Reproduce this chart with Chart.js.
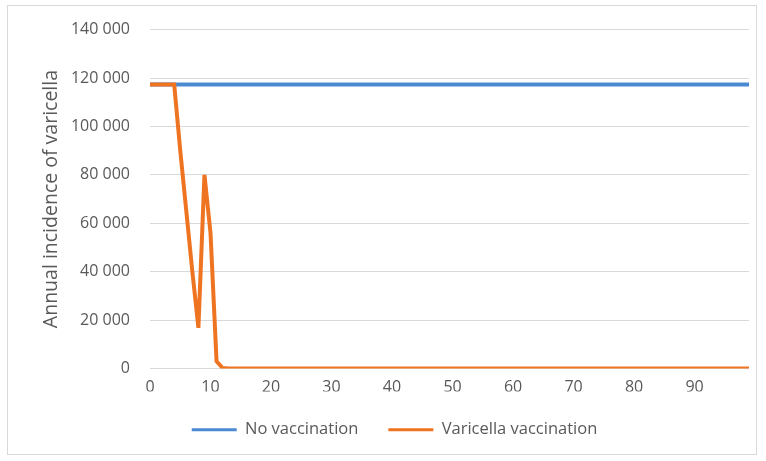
<!DOCTYPE html>
<html>
<head>
<meta charset="utf-8">
<script src="https://cdn.jsdelivr.net/npm/chart.js@4"></script>
<style>
  body { margin: 0; background: #fff; }
  #wrap { position: relative; width: 766px; height: 461px; }
  #frame { position: absolute; left: 7px; top: 5px; width: 750px; height: 450px; border: 1px solid #d9d9d9; box-sizing: border-box; }
  canvas { position: absolute; left: 0; top: 0; }
</style>
</head>
<body>
<div id="wrap">
  <div id="frame"></div>
  <canvas id="chart" width="766" height="461"></canvas>
</div>
<script>
// years since start (category axis), 0..99
const years = Array.from({ length: 100 }, (_, i) => String(i));

// annual incidence, no vaccination: flat
const noVaccination = [
  117300, 117300, 117300, 117300, 117300, 117300, 117300, 117300, 117300, 117300,
  117300, 117300, 117300, 117300, 117300, 117300, 117300, 117300, 117300, 117300,
  117300, 117300, 117300, 117300, 117300, 117300, 117300, 117300, 117300, 117300,
  117300, 117300, 117300, 117300, 117300, 117300, 117300, 117300, 117300, 117300,
  117300, 117300, 117300, 117300, 117300, 117300, 117300, 117300, 117300, 117300,
  117300, 117300, 117300, 117300, 117300, 117300, 117300, 117300, 117300, 117300,
  117300, 117300, 117300, 117300, 117300, 117300, 117300, 117300, 117300, 117300,
  117300, 117300, 117300, 117300, 117300, 117300, 117300, 117300, 117300, 117300,
  117300, 117300, 117300, 117300, 117300, 117300, 117300, 117300, 117300, 117300,
  117300, 117300, 117300, 117300, 117300, 117300, 117300, 117300, 117300, 117300
];

// annual incidence with varicella vaccination
const withVaccination = [
  117300, 117300, 117300, 117300, 117300, 90000, 65000, 40000, 16800, 80000,
  56000, 3000, 200, 0, 0, 0, 0, 0, 0, 0,
  0, 0, 0, 0, 0, 0, 0, 0, 0, 0,
  0, 0, 0, 0, 0, 0, 0, 0, 0, 0,
  0, 0, 0, 0, 0, 0, 0, 0, 0, 0,
  0, 0, 0, 0, 0, 0, 0, 0, 0, 0,
  0, 0, 0, 0, 0, 0, 0, 0, 0, 0,
  0, 0, 0, 0, 0, 0, 0, 0, 0, 0,
  0, 0, 0, 0, 0, 0, 0, 0, 0, 0,
  0, 0, 0, 0, 0, 0, 0, 0, 0, 0
];

const seriesNames = ['No vaccination', 'Varicella vaccination'];
const yTitle = 'Annual incidence of varicella';

const textColor = '#595959';
const font = { family: '"Open Sans", sans-serif', size: 16 };

const ctx = document.getElementById('chart').getContext('2d');
new Chart(ctx, {
  type: 'line',
  data: {
    labels: years,
    datasets: [{
      label: seriesNames[0],
      data: noVaccination,
      borderColor: '#4a8ad2',
      backgroundColor: '#4a8ad2',
      borderWidth: 4,
      pointRadius: 0,
      tension: 0,
      order: 1
    }, {
      label: seriesNames[1],
      data: withVaccination,
      borderColor: '#ef7422',
      backgroundColor: '#ef7422',
      borderWidth: 4,
      pointRadius: 0,
      tension: 0,
      order: 0   // orange drawn on top, as in the original
    }]
  },
  options: {
    responsive: false,
    animation: false,
    layout: { padding: { left: 40, right: 17, top: 18, bottom: 13 } },
    plugins: {
      tooltip: { enabled: false },
      legend: {
        position: 'bottom',
        labels: {
          color: textColor,
          font: { family: '"Open Sans", sans-serif', size: 16.5 },
          boxWidth: 45,
          boxHeight: 3,
          padding: 30,
          sort: (a, b) => a.datasetIndex - b.datasetIndex,
          generateLabels: (chart) =>
            Chart.defaults.plugins.legend.labels.generateLabels(chart)
              .map(l => ({ ...l, lineWidth: 0 }))
        }
      }
    },
    scales: {
      x: {
        offset: false,
        grid: { display: false, drawTicks: false },
        border: { display: false },
        ticks: {
          autoSkip: false,
          maxRotation: 0,
          color: textColor,
          font: font,
          padding: 9,
          callback: function (val, i) {
            return i % 10 === 0 ? this.getLabelForValue(val) : null;
          }
        },
        afterFit: (scale) => { scale.height = 23; }
      },
      y: {
        min: 0,
        max: 140000,
        grid: { color: '#d9d9d9', lineWidth: 1, drawTicks: false },
        border: { display: false },
        ticks: {
          stepSize: 20000,
          color: textColor,
          font: font,
          padding: 20,
          callback: (v) => v.toLocaleString('en-US').replace(/,/g, ' ')
        },
        title: {
          display: true,
          text: yTitle,
          color: textColor,
          font: { family: '"Open Sans", sans-serif', size: 19.5 },
          padding: 0
        },
        afterFit: (scale) => { scale.width = 110; }
      }
    }
  }
});
</script>
</body>
</html>
